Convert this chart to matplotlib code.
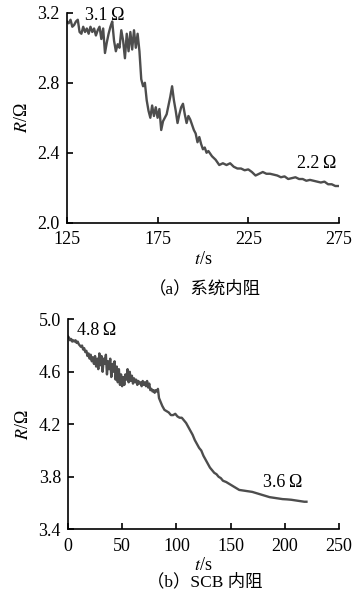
import numpy as np
import matplotlib
matplotlib.use("Agg")
import matplotlib.pyplot as plt

plt.rcParams['font.family'] = ['Liberation Serif', 'Noto Sans CJK SC', 'DejaVu Sans']
plt.rcParams['mathtext.fontset'] = 'stix'

# (a) system internal resistance
t_sys = [125, 126, 127, 128, 129, 130, 131, 132, 133, 134, 135, 136, 137, 138, 139,
         140, 141, 142, 143, 144, 145, 146, 147, 148, 149, 150, 151, 152, 153, 154,
         155, 156, 157, 158, 159, 160, 161, 162, 163, 164, 165, 166, 167, 168, 169,
         170, 171, 172, 173, 174, 175, 176, 177, 178, 179, 180, 181, 182, 183, 184,
         185, 186, 187, 188, 189, 190, 191, 192, 193, 194, 195, 196, 197, 198, 199,
         200, 201, 202, 203, 205, 207, 209, 211, 213, 215, 217, 219, 221, 223, 225,
         227, 229, 231, 233, 235, 237, 239, 241, 243, 245, 247, 249, 251, 253, 255,
         257, 259, 261, 263, 265, 267, 269, 271, 273, 275]
r_sys = [3.15, 3.14, 3.16, 3.12, 3.13, 3.15, 3.16, 3.09, 3.08, 3.12, 3.09, 3.11, 3.08, 3.12, 3.09,
         3.11, 3.07, 3.10, 3.12, 3.05, 3.11, 2.97, 3.03, 3.08, 3.12, 3.15, 3.04, 2.98, 3.02, 3.00,
         3.10, 3.04, 2.94, 3.08, 2.98, 3.09, 2.99, 3.10, 3.00, 3.08, 2.98, 2.82, 2.78, 2.80, 2.70,
         2.64, 2.60, 2.67, 2.61, 2.66, 2.60, 2.65, 2.53, 2.58, 2.60, 2.62, 2.67, 2.72, 2.78, 2.70,
         2.64, 2.57, 2.62, 2.66, 2.68, 2.62, 2.57, 2.61, 2.59, 2.56, 2.53, 2.51, 2.46, 2.49, 2.45,
         2.42, 2.43, 2.40, 2.41, 2.38, 2.36, 2.33, 2.34, 2.33, 2.34, 2.32, 2.31, 2.31, 2.30, 2.305,
         2.29, 2.27, 2.28, 2.29, 2.28, 2.28, 2.275, 2.27, 2.26, 2.265, 2.25, 2.255, 2.26, 2.25, 2.25,
         2.24, 2.245, 2.24, 2.235, 2.23, 2.235, 2.22, 2.22, 2.21, 2.21]

# (b) SCB internal resistance
t_scb = list(range(0, 86)) + [87, 89, 91, 93, 95, 97, 99, 101, 103, 105, 107, 109, 111, 113,
                              115, 117, 119, 121, 123, 125, 127, 129, 131, 133, 135, 137, 139,
                              141, 143, 146, 150, 154, 158, 162, 166, 170, 174, 178, 182, 186,
                              190, 194, 198, 202, 206, 210, 214, 218, 220]
r_scb = [4.87, 4.86, 4.84, 4.85, 4.83, 4.84, 4.83, 4.84, 4.82, 4.83, 4.81, 4.80, 4.79, 4.80,
         4.77, 4.78, 4.75, 4.76, 4.72, 4.74, 4.70, 4.73, 4.68, 4.71, 4.66, 4.72, 4.64, 4.70,
         4.62, 4.74, 4.65, 4.72, 4.60, 4.70, 4.66, 4.73, 4.58, 4.68, 4.62, 4.70, 4.56, 4.66,
         4.60, 4.68, 4.54, 4.64, 4.52, 4.62, 4.50, 4.58, 4.49, 4.56, 4.50, 4.58, 4.54, 4.62,
         4.52, 4.60, 4.53, 4.57, 4.51, 4.55, 4.52, 4.54, 4.50, 4.53, 4.51, 4.52, 4.49, 4.53,
         4.50, 4.52, 4.49, 4.53, 4.48, 4.51, 4.46, 4.47, 4.45, 4.46, 4.44, 4.46, 4.45, 4.47,
         4.40, 4.38,
         4.34, 4.31, 4.30, 4.29, 4.27, 4.27, 4.28, 4.26, 4.25, 4.25, 4.23, 4.21, 4.18, 4.15,
         4.12, 4.08, 4.05, 4.02, 4.00, 3.96, 3.93, 3.90, 3.87, 3.85, 3.83, 3.82, 3.80,
         3.79, 3.77, 3.76, 3.74, 3.72, 3.70, 3.695, 3.69, 3.685, 3.675, 3.665, 3.655, 3.645,
         3.64, 3.635, 3.63, 3.628, 3.625, 3.62, 3.615, 3.61, 3.61]

xticks_a = [125, 175, 225, 275]
yticks_a = [2.0, 2.4, 2.8, 3.2]
xticks_b = [0, 50, 100, 150, 200, 250]
yticks_b = [3.4, 3.8, 4.2, 4.6, 5.0]

line_color = '#4d4d4d'
fs = 13

fig = plt.figure(figsize=(3.52, 6.07), dpi=100)


def style(ax, xticks, yticks, xlim, ylim):
    ax.set_xlim(*xlim)
    ax.set_ylim(*ylim)
    ax.set_xticks(xticks)
    ax.set_yticks(yticks)
    ax.set_xticklabels([f"{v:g}" for v in xticks])
    ax.set_yticklabels([f"{v:.1f}" for v in yticks])
    ax.spines['top'].set_visible(False)
    ax.spines['right'].set_visible(False)
    ax.spines['left'].set_linewidth(1.2)
    ax.spines['bottom'].set_linewidth(1.2)
    ax.tick_params(direction='in', length=4, width=1.2, labelsize=fs)
    ax.tick_params(axis='x', pad=6)
    ax.tick_params(axis='y', pad=5)
    ax.set_ylabel(r'$R$/Ω', fontsize=fs, labelpad=5)
    ax.set_xlabel(r'$t$/s', fontsize=fs, labelpad=2)


ax1 = fig.add_axes([0.190, 0.633, 0.773, 0.346])
ax1.plot(t_sys, r_sys, color=line_color, lw=1.7)
style(ax1, xticks_a, yticks_a, (125, 275), (2.0, 3.2))
ax1.text(135, 3.185, '3.1\u2009Ω', fontsize=fs, va='center', ha='left')
ax1.text(252, 2.337, '2.2\u2009Ω', fontsize=fs, va='center', ha='left')
fig.text(0.583, 1 - 289 / 607, '（a）系统内阻', fontsize=12.5, ha='center', va='center')

ax2 = fig.add_axes([0.193, 0.128, 0.770, 0.346])
ax2.plot(t_scb, r_scb, color=line_color, lw=1.7)
style(ax2, xticks_b, yticks_b, (0, 250), (3.4, 5.0))
ax2.text(8, 4.916, '4.8\u2009Ω', fontsize=fs, va='center', ha='left')
ax2.text(180, 3.756, '3.6\u2009Ω', fontsize=fs, va='center', ha='left')
fig.text(0.583, 1 - 582 / 607, '（b）SCB 内阻', fontsize=12.5, ha='center', va='center')

fig.savefig('out.png', dpi=100)
